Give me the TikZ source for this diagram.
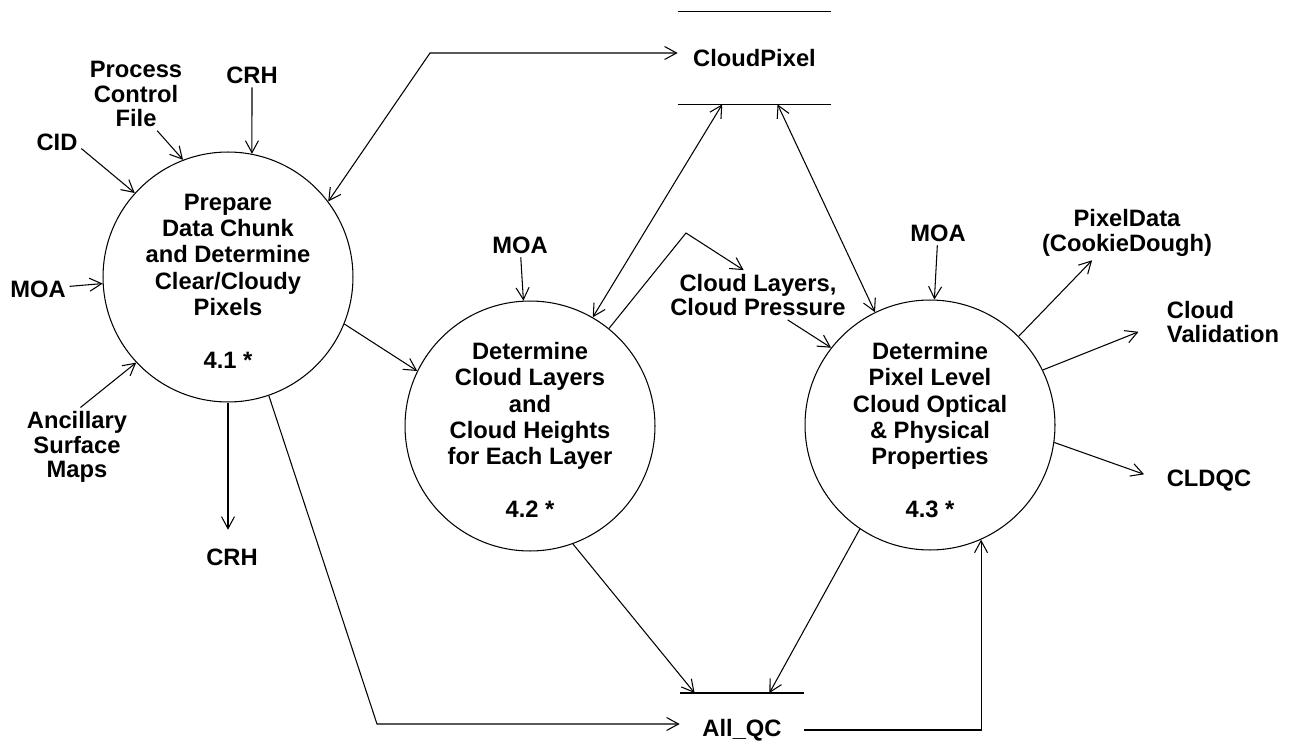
\documentclass[tikz,border=0pt]{standalone}
\usepackage{fontspec}
\setmainfont{Liberation Sans}
\usepackage{tikz}
\usetikzlibrary{arrows.meta, calc}
\tikzstyle{proc} = [circle, draw, line width=0.6pt,
minimum size=5cm, inner sep=0pt]
\tikzstyle{proctext} = [align=center,
font=\fontsize{13.5}{15}\selectfont\bfseries]
\tikzstyle{lbl} = [align=center, inner sep=2pt,
font=\fontsize{13.5}{14}\selectfont\bfseries]
\tikzstyle{store} = [lbl, inner sep=0pt]
\tikzstyle{flow} = [-{Straight Barb[length=2.4mm, width=2.6mm]}, line width=0.6pt]
\tikzstyle{biflow} = [{Straight Barb[length=2.4mm, width=2.6mm]}-{Straight Barb[length=2.4mm, width=2.6mm]}, line width=0.6pt]

\begin{document}
\begin{tikzpicture}[x=0.02cm, y=-0.02cm]
    \useasboundingbox (0,0) rectangle (1292,753);

    % processes
    \node (p41) [proc] at (228,277) {};
    \node (p41txt) [proctext] at (228,281) {Prepare\\Data Chunk\\and Determine\\Clear/Cloudy\\Pixels\\[15pt]4.1 *};
    \node (p42) [proc] at (530,426) {};
    \node (p42txt) [proctext] at (530,430) {Determine\\Cloud Layers\\and\\Cloud Heights\\for Each Layer\\[15pt]4.2 *};
    \node (p43) [proc] at (930,425) {};
    \node (p43txt) [proctext] at (930,430) {Determine\\Pixel Level\\Cloud Optical\\\& Physical\\Properties\\[15pt]4.3 *};

    % stores
    \node (cpix) [store, minimum width=3.06cm, minimum height=1.84cm] at (754.5,58) {CloudPixel};
    \draw[line width=0.6pt] (cpix.north west) -- (cpix.north east) (cpix.south west) -- (cpix.south east);
    \node (allqc) [store, minimum width=2.48cm] at (742,730) {All\_QC};
    \coordinate (qcl) at ($(allqc.west)+(0,-37)$);
    \coordinate (qcr) at ($(allqc.east)+(0,-37)$);
    \draw[line width=0.6pt] (qcl) -- (qcr);

    % outside flows
    \node (crh1)  [lbl] at (252,75)  {CRH};
    \node (pcf)   [lbl] at (136,94)  {Process\\Control\\File};
    \node (cid)   [lbl] at (57,142)  {CID};
    \node (moa1)  [lbl] at (38,289)  {MOA};
    \node (anc)   [lbl] at (77,447)  {Ancillary\\Surface\\Maps};
    \node (crh2)  [lbl] at (232,557) {CRH};
    \node (moa2)  [lbl] at (520,245) {MOA};
    \node (clp)   [lbl] at (758,295) {Cloud Layers,\\Cloud Pressure};
    \node (moa3)  [lbl] at (938,233) {MOA};
    \node (pixd)  [lbl] at (1127,233) {PixelData\\(CookieDough)};
    \node (cval)  [lbl, align=left] at (1223,322) {Cloud\\Validation};
    \node (cldqc) [lbl] at (1209,481) {CLDQC};

    \coordinate (cpbend) at (430,53);
    \coordinate (clbend) at (686,233);
    \coordinate (qcbend) at (377,724);

    \draw[flow] (crh1) -- (p41.79);
    \draw[flow] (pcf.-60) -- (p41.111);
    \draw[flow] (cid.-15) -- (p41.138);
    \draw[flow] (moa1) -- (p41.183);
    \draw[flow] (anc.85) -- (p41.223);
    \draw[flow, shorten >=0.3cm] (p41.south) -- (p41.south |- crh2.north);
    \draw[biflow] (p41.37) -- (cpbend) -- (cpbend -| cpix.west);
    \draw[flow] (p41.338) -- (p42.154);
    \draw[flow] (p41.289) -- (qcbend) -- (qcbend -| allqc.west);

    \draw[flow] (moa2) -- (p42.93);
    \draw[biflow] ($(cpix.south west)!0.29!(cpix.south east)$) -- (p42.60);
    \draw[flow] (p42.51) -- (clbend) -- (clp.120);
    \draw[flow] (p42.290) -- ($(qcl)!0.12!(qcr)$);

    \draw[flow] (moa3) -- (p43.88);
    \draw[biflow] ($(cpix.south west)!0.65!(cpix.south east)$) -- (p43.116);
    \draw[flow] (clp.-40) -- (p43.142);
    \draw[flow] (p43.45) -- (pixd.-142);
    \draw[flow, shorten >=0.53cm] (p43.26) -- (cval.west);
    \draw[flow, shorten >=0.4cm] (p43.-8) -- (cldqc.west);
    \draw[flow] (p43.236) -- ($(qcl)!0.72!(qcr)$);
    \draw[flow] (allqc.east) -- (allqc.east -| p43.294) -- (p43.294);
        \end{tikzpicture}
\end{document}
